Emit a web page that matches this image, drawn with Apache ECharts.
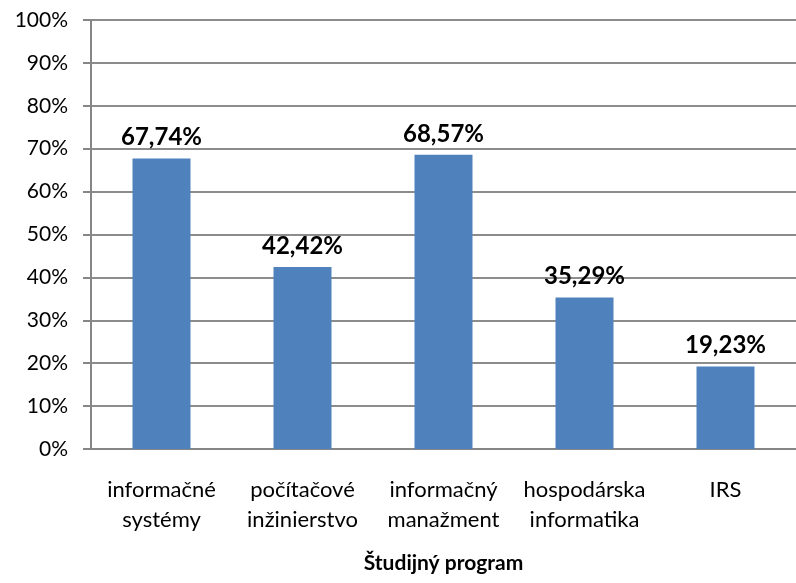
<!DOCTYPE html>
<html>
<head>
<meta charset="utf-8">
<script src="https://cdn.jsdelivr.net/npm/echarts@6/dist/echarts.min.js"></script>
<style>
  html, body { margin: 0; padding: 0; background: #fff; }
  #main { width: 796px; height: 583px; }
</style>
</head>
<body>
<div id="main"></div>
<script>
// študijné programy a podiel v %
var programy = ['informačné\nsystémy', 'počítačové\ninžinierstvo', 'informačný\nmanažment', 'hospodárska\ninformatika', 'IRS'];
var hodnoty = [67.74, 42.42, 68.57, 35.29, 19.23];
var yTicky = [0, 10, 20, 30, 40, 50, 60, 70, 80, 90, 100];

var myChart = echarts.init(document.getElementById('main'));

var option = {
    textStyle: { fontFamily: 'Lato' },
    animation: false,
    grid: {
        left: 91,
        top: 20,
        width: 713,
        bottom: 134
    },
    xAxis: {
        type: 'category',
        data: programy,
        name: 'Študijný program',
        nameLocation: 'middle',
        nameGap: 104,
        nameTextStyle: { color: '#000', fontSize: 21, fontWeight: 'bold', fontFamily: 'Lato' },
        axisLine: { lineStyle: { color: '#868686', width: 2 } },
        axisTick: { show: false },
        axisLabel: {
            color: '#000',
            fontSize: 22,
            lineHeight: 30,
            margin: 26,
            interval: 0,
            fontFamily: 'Lato'
        }
    },
    yAxis: {
        type: 'value',
        min: yTicky[0],
        max: yTicky[yTicky.length - 1],
        interval: 10,
        axisLine: { show: true, lineStyle: { color: '#868686', width: 2 } },
        axisTick: { show: true, length: 8, lineStyle: { color: '#868686', width: 2 } },
        splitLine: { lineStyle: { color: '#8c8c8c', width: 2 } },
        axisLabel: {
            color: '#000',
            fontSize: 21,
            margin: 23,
            formatter: '{value}%',
            fontFamily: 'Lato'
        }
    },
    series: [
        {
            type: 'bar',
            data: hodnoty,
            barWidth: 58,
            itemStyle: { color: '#4F81BD' },
            label: {
                show: true,
                position: 'top',
                distance: 9,
                color: '#000',
                fontSize: 24,
                fontWeight: 'bold',
                fontFamily: 'Lato',
                formatter: function (p) {
                    return p.value.toFixed(2).replace('.', ',') + '%';
                }
            }
        }
    ]
};

myChart.setOption(option);
</script>
</body>
</html>
